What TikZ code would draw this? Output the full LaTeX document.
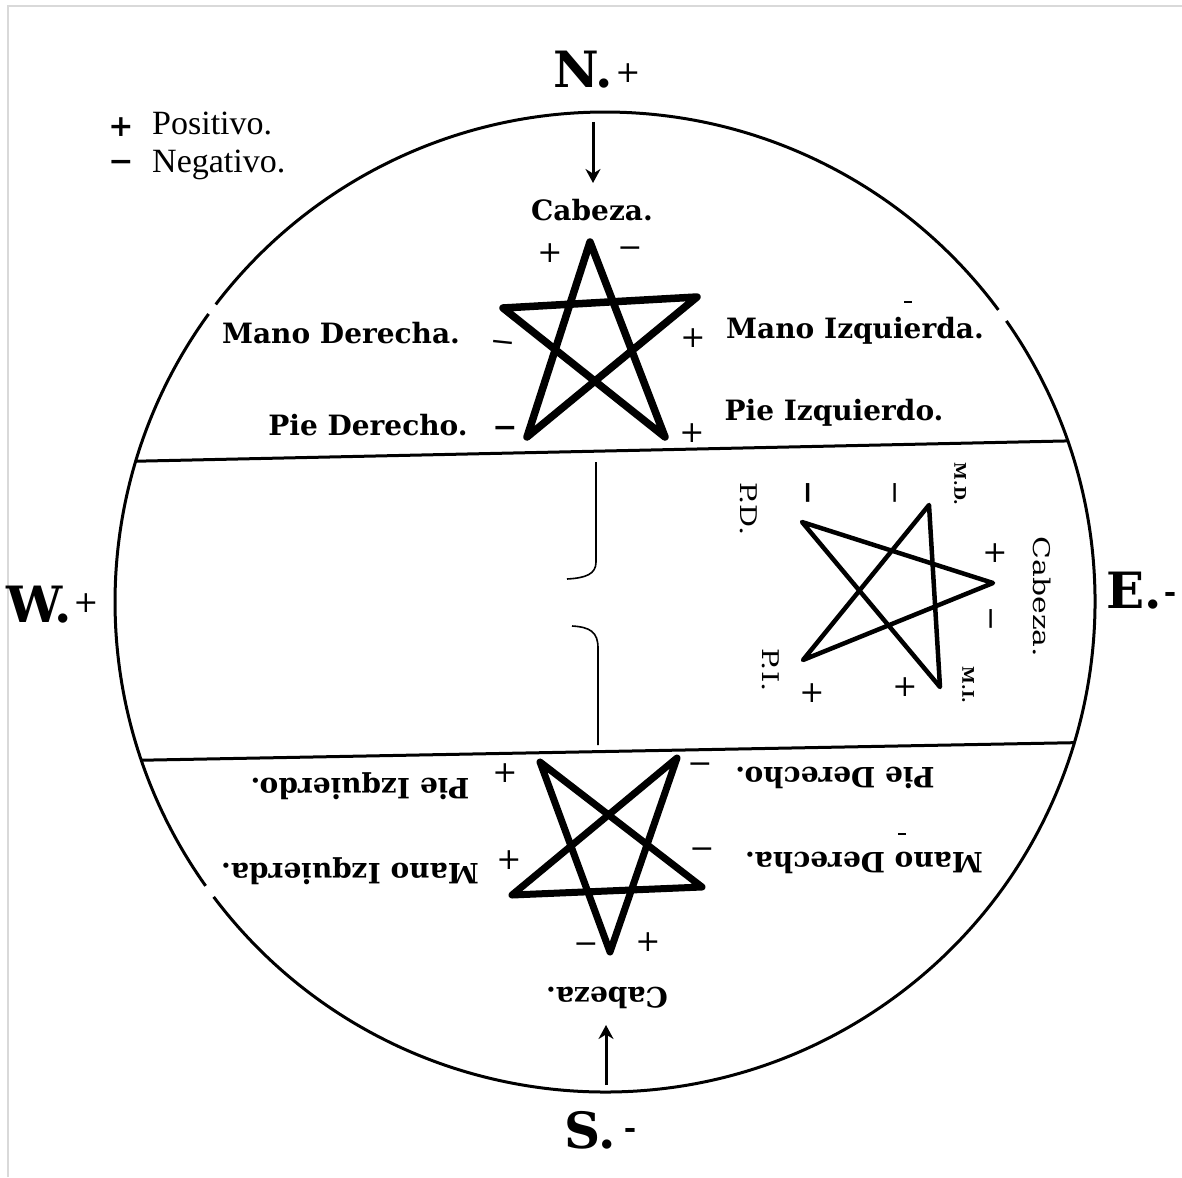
\documentclass[tikz,border=0pt]{standalone}
\usepackage{fontspec}
\setmainfont{Liberation Serif}
\newfontfamily\dvs{DejaVu Serif}
\usetikzlibrary{arrows.meta}
\begin{document}
\begin{tikzpicture}[x=1pt,y=-1pt,
  lbl/.style={font=\dvs\bfseries\fontsize{28}{30}\selectfont,inner sep=0pt,anchor=base},
  flip/.style={lbl,rotate=180},
  sgn/.style={font=\dvs\fontsize{30}{32}\selectfont,inner sep=0pt},
  bsgn/.style={font=\dvs\bfseries\fontsize{30}{32}\selectfont,inner sep=0pt},
  compass/.style={font=\dvs\bfseries\fontsize{50}{52}\selectfont,inner sep=0pt,anchor=base west},
  small/.style={font=\dvs\bfseries\fontsize{16}{18}\selectfont,inner sep=0pt,rotate=-90},
  mid/.style={font=\dvs\fontsize{23}{25}\selectfont,inner sep=0pt,rotate=-90},
  legend/.style={font=\fontsize{34}{36}\selectfont,inner sep=0pt,anchor=base west},
  starline/.style={line join=round,line cap=round},
  ring/.style={line width=3pt},
  divider/.style={line width=3pt},
  brace/.style={line width=1.6pt},
  arr/.style={line width=3pt,-{Stealth[length=14pt,width=15pt]}}
]
\useasboundingbox (0,0) rectangle (1182,1177);
\fill[white] (0,0) rectangle (1182,1177);
\draw[black!15,line width=1.5pt] (8,1177) -- (8,6) -- (1182,6);

% outer ring with small gaps
\begin{scope}[shift={(605,602)}]
\draw[ring] (217.4:490) arc[start angle=217.4,end angle=323.4,radius=490];
\draw[ring] (325.0:490) arc[start angle=325.0,end angle=503.0,radius=490];
\draw[ring] (504.6:490) arc[start angle=504.6,end angle=576.0,radius=490];
\end{scope}

% dividers, clipped to ring
\begin{scope}
\clip (605,602) circle[radius=490];
\draw[divider] (100,462) -- (1110,440);
\draw[divider] (100,761) -- (1110,742);
\end{scope}

% bracket in the middle band
\draw[brace] (596,462) -- (596,562) .. controls (596,574) and (586,578) .. (567,579);
\draw[brace] (572,626) .. controls (590,627) and (598,632) .. (598,648) -- (598,745);

% legend
\node[bsgn] (lp) at (121,127) {+};
\node[legend] (lpt) at (152,135) {Positivo.};
\node[bsgn] (lm) at (121,166) {−};
\node[legend] (lmt) at (152,173) {Negativo.};

% compass points
\node[compass] (N) at (553,88) {N.};
\node[sgn] (Np) at (628,73) {+};
\node[compass] (E) at (1106,608) {E.};
\node[bsgn] (Em) at (1170,597) {-};
\node[compass] (W) at (6,622) {W.};
\node[sgn] (Wp) at (86,603) {+};
\node[compass] (S) at (564,1148) {S.};
\node[bsgn] (Sm) at (630,1133) {-};

\coordinate (na) at (593,122);
\coordinate (nb) at (593,183);
\draw[arr] (na) -- (nb);
\coordinate (sa) at (606,1085);
\coordinate (sb) at (606,1025);
\draw[arr] (sa) -- (sb);

% ===== upper pentagram (upright)
\draw[starline,line width=7.5pt] (590,242) -- (527,437) -- (697,297) -- (503,308) -- (665,437) -- cycle;
\node[lbl] (c1) at (592,220) {Cabeza.};
\node[lbl] (md1) at (341,343) {Mano Derecha.};
\node[lbl] (pd1) at (368,435) {Pie Derecho.};
\node[lbl] (mi1) at (855,338) {Mano Izquierda.};
\node[lbl] (pi1) at (834,420) {Pie Izquierdo.};
\node[sgn] (s1) at (550,253) {+};
\node[sgn] (s2) at (630,252) {−};
\node[sgn,rotate=-6] (s3) at (503,347) {−};
\node[bsgn] (s4) at (505,432) {−};
\node[sgn] (s5) at (693,338) {+};
\node[sgn] (s6) at (692,433) {+};
\draw[line width=1.2pt] (904,302) -- (912,302);

% ===== middle pentagram (head to the east)
\draw[starline,line width=4.5pt] (993,583) -- (802,522) -- (940,687) -- (929,505) -- (803,660) -- cycle;
\node[mid] (c2) at (1042,597) {\scalebox{1.3}[1]{Cabeza.}};
\node[small] (md2) at (960,484) {M.D.};
\node[small] (mi2) at (968,685) {M.I.};
\node[mid] (pd2) at (749,509) {\scalebox{1.25}[1]{P.D.}};
\node[mid] (pi2) at (771,670) {\scalebox{1.25}[1]{P.I.}};
\node[bsgn,rotate=90] (r1) at (812,493) {−};
\node[sgn,rotate=90] (r2) at (899,493) {−};
\node[sgn] (r3) at (995,553) {+};
\node[sgn,rotate=90] (r4) at (995,619) {−};
\node[sgn] (r5) at (812,693) {+};
\node[sgn] (r6) at (905,687) {+};

% ===== lower pentagram (inverted)
\draw[starline,line width=7pt] (610,952) -- (540,762) -- (702,887) -- (512,895) -- (677,758) -- cycle;
\node[flip] (c3) at (607,987) {Cabeza.};
\node[flip] (pi3) at (360,778) {Pie Izquierdo.};
\node[flip] (mi3) at (350,863) {Mano Izquierda.};
\node[flip] (pd3) at (835,767) {Pie Derecho.};
\node[flip] (md3) at (864,852) {Mano Derecha.};
\node[sgn] (t1) at (505,773) {+};
\node[sgn] (t2) at (509,860) {+};
\node[sgn] (t3) at (700,768) {−};
\node[sgn] (t4) at (702,853) {−};
\node[sgn] (t5) at (586,948) {−};
\node[sgn] (t6) at (648,942) {+};
\draw[line width=1.2pt] (898,834) -- (906,834);
\end{tikzpicture}
\end{document}
